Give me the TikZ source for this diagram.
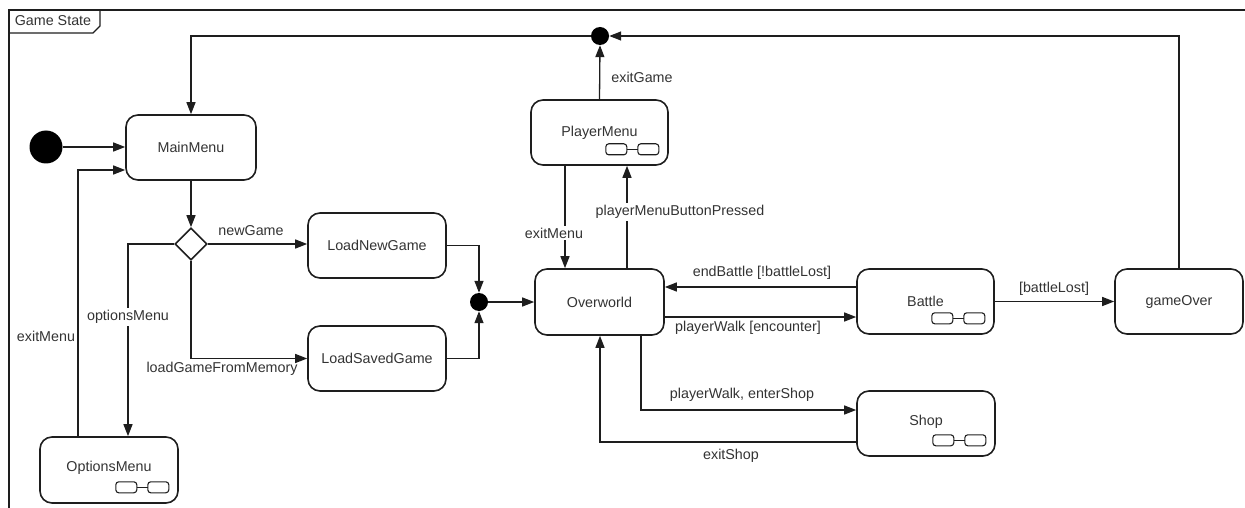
\documentclass[tikz,border=0pt]{standalone}
\usepackage{fontspec}
\setmainfont{Liberation Sans}
\usetikzlibrary{arrows.meta,shapes.geometric,calc}
\definecolor{ink}{HTML}{1E1E1E}
\definecolor{txt}{HTML}{333333}
\tikzset{
  statebox/.style={draw=ink, line width=1.6pt, rounded corners=12pt, inner sep=0pt,
    text=txt, font=\fontsize{14.3}{16}\selectfont},
  dot/.style={circle, fill=black, draw=none, inner sep=0pt},
  choice/.style={diamond, draw=ink, line width=1.6pt, inner sep=0pt,
    minimum width=32pt, minimum height=32pt},
  conn/.style={draw=ink, line width=1.3pt},
  arr/.style={conn, -{Triangle[length=12pt,width=9pt]}},
  lbl/.style={text=txt, font=\fontsize{14.3}{16}\selectfont, inner sep=1pt},
  lblw/.style={lbl, fill=white, inner sep=2pt},
  subicon/.pic={
    \draw[ink, line width=1.1pt, rounded corners=3pt] (-53,0) rectangle (-32,-11);
    \draw[ink, line width=1.1pt, rounded corners=3pt] (-21,0) rectangle (0,-11);
    \draw[ink, line width=1.1pt] (-32,-5.5) -- (-21,-5.5);
  }
}
\begin{document}
\begin{tikzpicture}[x=1pt,y=-1pt]
\useasboundingbox (0,0) rectangle (1245,508);

% enclosing frame with its name tab
\draw[ink, line width=1.3pt] (1245,10) -- (9,10) -- (9,508);
\draw[ink, line width=1.3pt] (9,33) -- (93,33) -- (100,26) -- (100,10);
\node[lbl] (frametitle) at (53,21) {Game State};

% states
\node[dot, minimum size=33pt] (init) at (46,147) {};
\node[statebox, minimum width=130pt, minimum height=65pt] (main) at (191,147.5) {MainMenu};
\node[choice] (dec) at (191,244) {};
\node[statebox, minimum width=138pt, minimum height=65pt] (newg) at (377,245.5) {LoadNewGame};
\node[statebox, minimum width=138pt, minimum height=65pt] (saved) at (377,358.5) {LoadSavedGame};
\node[dot, minimum size=18pt] (join) at (479,302) {};
\node[statebox, minimum width=129pt, minimum height=66pt] (over) at (599.5,302) {Overworld};
\node[statebox, minimum width=137pt, minimum height=65pt] (pmenu) at (599.5,132.5) {PlayerMenu};
\node[dot, minimum size=18pt] (topj) at (600,36) {};
\node[statebox, minimum width=137pt, minimum height=65pt] (battle) at (925.5,301.5) {Battle};
\node[statebox, minimum width=128pt, minimum height=65pt] (gover) at (1179,301.5) {gameOver};
\node[statebox, minimum width=138pt, minimum height=65pt] (shop) at (926,423.5) {};
\node[text=txt, font=\fontsize{14.3}{16}\selectfont] (shoplbl) at (926,422) {Shop};
\node[statebox, minimum width=138pt, minimum height=66pt] (opts) at (109,470) {};
\node[text=txt, font=\fontsize{14.3}{16}\selectfont] (optslbl) at (109,468) {OptionsMenu};

% composite-state markers
\pic at ([xshift=-10pt,yshift=11pt]pmenu.south east) {subicon};
\pic at ([xshift=-10pt,yshift=11pt]battle.south east) {subicon};
\pic at ([xshift=-10pt,yshift=11pt]shop.south east) {subicon};
\pic at ([xshift=-10pt,yshift=11pt]opts.south east) {subicon};

% transitions
\draw[arr] (init.east) -- (init.east -| main.west);
\draw[arr] (main.south) -- (dec.north);
\draw[arr] (dec.east) -- (dec.east -| newg.west);
\draw[arr] (dec.south) |- (saved.west);
\draw[arr] (dec.west) -| ([xshift=19pt]opts.north);
\draw[arr] ([xshift=-31pt]opts.north) |- ([yshift=-22.5pt]main.west);
\draw[arr] (newg.east) -| (join.north);
\draw[arr] (saved.east) -| (join.south);
\draw[arr] (join.east) -- (join.east -| over.west);
\draw[arr] ([xshift=27.5pt]over.north) -- ([xshift=27.5pt]pmenu.south);
\draw[arr] ([xshift=-34.5pt]pmenu.south) -- ([xshift=-34.5pt]over.north);
\draw[arr] (pmenu.north) -- (topj.south);
\draw[arr] (gover.north) |- (topj.east);
\draw[arr] (topj.west) -| (main.north);
\draw[arr] ([yshift=15pt]over.east -| battle.west) -- ([yshift=15pt]over.east);
\draw[arr] ([yshift=-15pt]over.east) -- ([yshift=-15pt]over.east -| battle.west);
\draw[arr] (battle.east |- gover.west) -- (gover.west);
\draw[arr] ([xshift=41.5pt]over.south) |- ([yshift=13.5pt]shop.west);
\draw[arr] ([yshift=-18.5pt]shop.west) -| ([xshift=0.5pt]over.south);

% transition labels
\node[lbl] (lnew) at (251,231) {newGame};
\node[lblw] (lopt) at (128,317) {optionsMenu};
\node[lbl] (lexit1) at (46,336) {exitMenu};
\node[lbl] (lload) at (222,369) {loadGameFromMemory};
\node[lbl] (lgame) at (642,77) {exitGame};
\node[lblw] (lpmb) at (680,212) {playerMenuButtonPressed};
\node[lblw] (lexit2) at (554,233) {exitMenu};
\node[lbl] (lend) at (762,273) {endBattle [!battleLost]};
\node[lbl] (lenc) at (748,328) {playerWalk [encounter]};
\node[lbl] (llost) at (1054,289) {[battleLost]};
\node[lbl] (lshop) at (742,395) {playerWalk, enterShop};
\node[lbl] (lxshop) at (731,456) {exitShop};
\end{tikzpicture}
\end{document}
